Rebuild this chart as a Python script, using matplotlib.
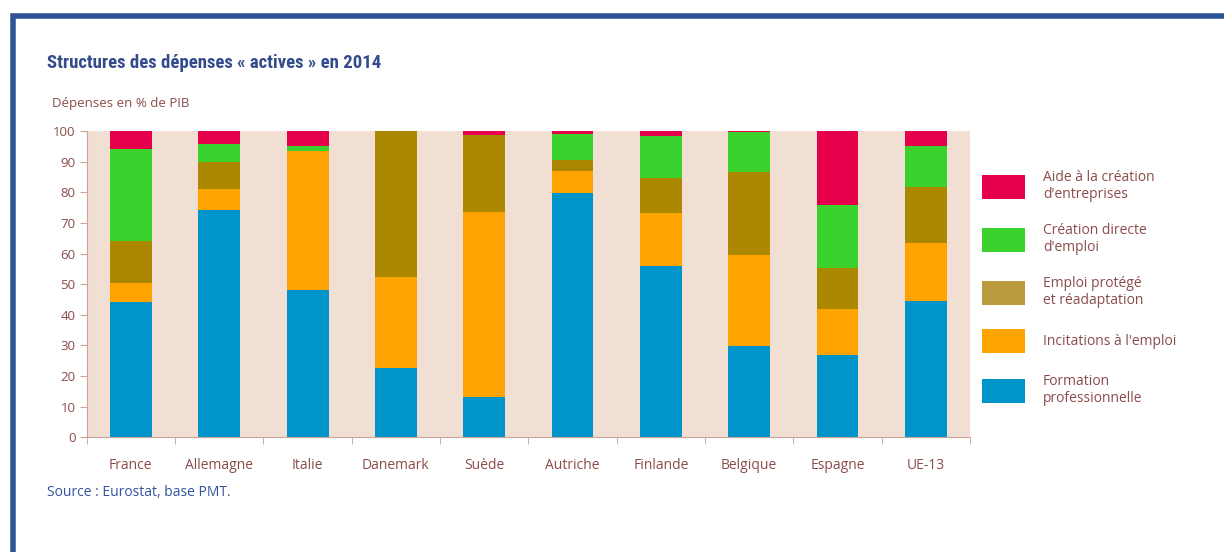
import numpy as np
import matplotlib
matplotlib.use("Agg")
import matplotlib.pyplot as plt
from matplotlib.patches import Patch, Rectangle

# data (% of active spending)
pays = ["France", "Allemagne", "Italie", "Danemark", "Suède",
        "Autriche", "Finlande", "Belgique", "Espagne", "UE-13"]
formation = [44.3, 74.1, 48.2, 22.7, 13.2, 79.9, 56.0, 29.7, 26.8, 44.4]
incitations = [6.1, 7.0, 45.2, 29.7, 60.3, 7.0, 17.2, 29.8, 15.2, 18.9]
protege = [13.8, 8.7, 0.0, 47.6, 25.3, 3.6, 11.6, 27.1, 13.4, 18.3]
creation = [30.0, 5.9, 1.7, 0.0, 0.0, 8.4, 13.5, 13.1, 20.3, 13.5]
aide = [5.8, 4.3, 4.9, 0.0, 1.2, 1.1, 1.7, 0.3, 24.3, 4.9]

series = [formation, incitations, protege, creation, aide]
labels = ["Formation\nprofessionnelle", "Incitations à l'emploi",
          "Emploi protégé\net réadaptation", "Création directe\nd'emploi",
          "Aide à la création\nd'entreprises"]
colors = ["#0094cb", "#ffa300", "#ac8700", "#3bd22d", "#e6004b"]
legend_colors = ["#0094cb", "#ffa300", "#b99a3d", "#3bd22d", "#e6004b"]

plt.rcParams['font.family'] = ['Open Sans', 'DejaVu Sans']
txt = "#8c4b4b"
axis_col = "#c9a396"

fig = plt.figure(figsize=(12.24, 5.52), dpi=100)
ax = fig.add_axes([86.7 / 1224, 1 - 437.3 / 552, (970 - 86.7) / 1224, (437.3 - 131) / 552])
ax.set_facecolor("#f2dfd4")

x = np.arange(len(pays))
bottom = np.zeros(len(pays))
for vals, col in zip(series, colors):
    ax.bar(x, vals, width=0.475, bottom=bottom, color=col, linewidth=0)
    bottom += np.array(vals)

ax.set_xlim(-0.5, len(pays) - 0.5)
ax.set_ylim(0, 100)
ax.set_yticks(range(0, 101, 10))
ax.set_xticks(x)
ax.set_xticklabels(pays)
ax.set_xticks(np.arange(-0.5, len(pays)), minor=True)
ax.tick_params(axis="x", which="major", length=0, pad=15, labelsize=10, labelcolor=txt)
ax.tick_params(axis="x", which="minor", length=5, color=axis_col, direction="out")
ax.tick_params(axis="y", length=5, color=axis_col, labelsize=9.5, labelcolor=txt, pad=3)
for s in ["top", "right"]:
    ax.spines[s].set_visible(False)
for s in ["left", "bottom"]:
    ax.spines[s].set_color(axis_col)

# legend
handles = [Patch(facecolor=c, edgecolor="none") for c in legend_colors[::-1]]
fig.legend(handles, labels[::-1], loc="upper left", bbox_to_anchor=(975 / 1224, 1 - 163 / 552),
           frameon=False, fontsize=10, labelcolor=txt, handlelength=3.1, handleheight=2.25,
           labelspacing=1.5, handletextpad=1.3, borderpad=0)

fig.text(47 / 1224, 1 - 63 / 552, "Structures des dépenses « actives » en 2014",
         family=['Roboto Condensed', 'Liberation Sans Narrow', 'DejaVu Sans Condensed', 'Roboto'],
         fontweight="bold", fontstretch="condensed",
         fontsize=13.5, color="#344c8c", va="center")
fig.text(52 / 1224, 1 - 103 / 552, "Dépenses en % de PIB", fontsize=9.5, color=txt, va="center")
fig.text(47 / 1224, 1 - 493 / 552, "Source : Eurostat, base PMT.", fontsize=10,
         color="#3452a0", va="center")

# blue frame of the screenshot
fig.add_artist(Rectangle((12.5 / 1224, -0.2), 2, 1.2 - 15.5 / 552, transform=fig.transFigure,
                         fill=False, edgecolor="#2f5597", linewidth=4, clip_on=False))

fig.savefig("out.png", dpi=100)
